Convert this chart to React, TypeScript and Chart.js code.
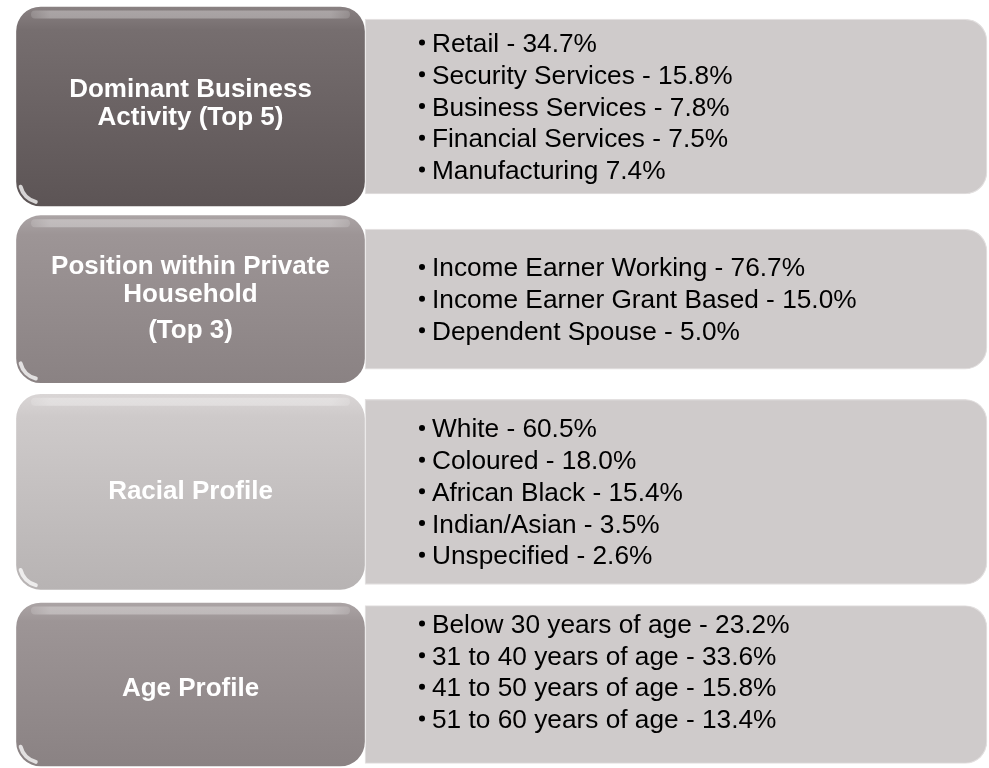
import React, { useEffect, useRef } from "react";
import { Chart, registerables } from "chart.js";

Chart.register(...registerables);

// ---- content ----
const TITLES: string[][][] = [
  [["Dominant Business", "Activity (Top 5)"]],
  [["Position within Private", "Household"], ["(Top 3)"]],
  [["Racial Profile"]],
  [["Age Profile"]],
];
const BUSINESS = [
  "Retail - 34.7%",
  "Security Services - 15.8%",
  "Business Services - 7.8%",
  "Financial Services - 7.5%",
  "Manufacturing 7.4%",
];
const HOUSEHOLD = [
  "Income Earner Working - 76.7%",
  "Income Earner Grant Based - 15.0%",
  "Dependent Spouse - 5.0%",
];
const RACE = [
  "White - 60.5%",
  "Coloured - 18.0%",
  "African Black - 15.4%",
  "Indian/Asian - 3.5%",
  "Unspecified - 2.6%",
];
const AGE = [
  "Below 30 years of age - 23.2%",
  "31 to 40 years of age - 33.6%",
  "41 to 50 years of age - 15.8%",
  "51 to 60 years of age - 13.4%",
];
const ITEMS = [BUSINESS, HOUSEHOLD, RACE, AGE];

// ---- layout / style ----
const W = 989;
const H = 768;
const LEFT_SPAN = [15, 366];
const RIGHT_SPAN = [365, 987];
const LEFT_H = [202, 170, 198, 166];
const RIGHT_H = [175, 140, 185, 158];
const Y_MIN = -0.5528;
const Y_MAX = 3.4334;
const LEFT_FILLS = [
  ["#8a8283", "#766e6f", "#5c5455"],
  ["#aca5a6", "#9d9596", "#8a8283"],
  ["#dad6d6", "#cecaca", "#b7b3b3"],
  ["#aca5a6", "#9d9596", "#8a8283"],
];
const RIGHT_FILL = "#cfcbcb";
const TITLE_FONT = 'bold 26px Arial, "Liberation Sans", Helvetica, sans-serif';
const ITEM_FONT = '25px Arial, "Liberation Sans", Helvetica, sans-serif';
const TITLE_LH = 28;
const TITLE_PARA_GAP = 8;
const TITLE_DY = [-5, -2, -2, 2];
const ITEM_LH = 31.7;
const ITEM_DY = [0, 0, 0, -13];
const ITEM_X = 67;
const BULLET_X = 57;
const ITEM_SCALE = 1.05;

function vGrad(chart: any, row: number, h: number, stops: string[]) {
  const area = chart.chartArea;
  const ys = chart.scales && chart.scales.y;
  if (!area || !ys) return stops[1];
  const yc = ys.getPixelForValue(row);
  const g = chart.ctx.createLinearGradient(0, yc - h / 2, 0, yc + h / 2);
  g.addColorStop(0, stops[0]);
  g.addColorStop(0.12, stops[1]);
  g.addColorStop(1, stops[2]);
  return g;
}

function rrect(ctx: CanvasRenderingContext2D, x: number, y: number, w: number, h: number, r: number) {
  ctx.beginPath();
  ctx.moveTo(x + r, y);
  ctx.lineTo(x + w - r, y);
  ctx.arcTo(x + w, y, x + w, y + r, r);
  ctx.lineTo(x + w, y + h - r);
  ctx.arcTo(x + w, y + h, x + w - r, y + h, r);
  ctx.lineTo(x + r, y + h);
  ctx.arcTo(x, y + h, x, y + h - r, r);
  ctx.lineTo(x, y + r);
  ctx.arcTo(x, y, x + r, y, r);
  ctx.closePath();
}

function boxOf(chart: any, i: number) {
  const el = chart.getDatasetMeta(i).data[0];
  const p = el.getProps(["x", "y", "base", "height"], true);
  const l = Math.min(p.x, p.base);
  const r = Math.max(p.x, p.base);
  return { l, r, t: p.y - p.height / 2, b: p.y + p.height / 2, cy: p.y };
}

const decor = {
  id: "decor",
  afterDatasetsDraw(chart: any) {
    const ctx: CanvasRenderingContext2D = chart.ctx;
    const n = TITLES.length;
    for (let i = 0; i < n; i++) {
      const bx = boxOf(chart, i);
      // gloss band near top
      ctx.save();
      const g = ctx.createLinearGradient(bx.l, 0, bx.r, 0);
      g.addColorStop(0, "rgba(255,255,255,0)");
      g.addColorStop(0.1, "rgba(255,255,255,0.3)");
      g.addColorStop(0.9, "rgba(255,255,255,0.3)");
      g.addColorStop(1, "rgba(255,255,255,0)");
      ctx.fillStyle = g;
      rrect(ctx, bx.l + 16, bx.t + 5, bx.r - bx.l - 32, 8, 4);
      ctx.fill();
      // crescent bottom-left
      ctx.beginPath();
      ctx.arc(bx.l + 26, bx.b - 26, 21, Math.PI * 0.58, Math.PI * 0.92);
      ctx.strokeStyle = "rgba(255,255,255,0.75)";
      ctx.lineWidth = 4;
      ctx.lineCap = "round";
      ctx.stroke();
      ctx.restore();

      // title text
      ctx.save();
      ctx.font = TITLE_FONT;
      ctx.fillStyle = "#ffffff";
      ctx.textAlign = "center";
      ctx.textBaseline = "alphabetic";
      const paras = TITLES[i];
      const lines: { text: string; off: number }[] = [];
      let off = 0;
      paras.forEach((para, pi) => {
        if (pi > 0) off += TITLE_PARA_GAP;
        para.forEach((line, li) => {
          if (pi > 0 || li > 0) off += TITLE_LH;
          lines.push({ text: line, off });
        });
      });
      const span = off;
      const cx = (bx.l + bx.r) / 2;
      const capHalf = 9.3;
      const first = bx.cy + TITLE_DY[i] - span / 2 + capHalf;
      lines.forEach((ln) => ctx.fillText(ln.text, cx, first + ln.off));
      ctx.restore();
    }

    // detail items
    for (let i = 0; i < ITEMS.length; i++) {
      const bx = boxOf(chart, n + i);
      const items = ITEMS[i];
      ctx.save();
      ctx.font = ITEM_FONT;
      ctx.fillStyle = "#000000";
      ctx.textAlign = "left";
      ctx.textBaseline = "alphabetic";
      const first = bx.cy + ITEM_DY[i] - ((items.length - 1) * ITEM_LH) / 2 + 9;
      items.forEach((txt, k) => {
        const bl = first + k * ITEM_LH;
        ctx.beginPath();
        ctx.arc(bx.l + BULLET_X, bl - 9.5, 3, 0, Math.PI * 2);
        ctx.fill();
        ctx.save();
        ctx.translate(bx.l + ITEM_X, bl);
        ctx.scale(ITEM_SCALE, 1);
        ctx.fillText(txt, 0, 0);
        ctx.restore();
      });
      ctx.restore();
    }
  },
};

export default function App() {
  const ref = useRef<HTMLCanvasElement | null>(null);

  useEffect(() => {
    if (!ref.current) return;
    const leftSets = TITLES.map((t, i) => ({
      label: t.flat().join(" "),
      data: [{ x: [LEFT_SPAN[0], LEFT_SPAN[1]], y: i }],
      barThickness: LEFT_H[i],
      grouped: false,
      backgroundColor: (c: any) => vGrad(c.chart, i, LEFT_H[i], LEFT_FILLS[i]),
      borderColor: "rgba(255,255,255,0.35)",
      borderWidth: 1.5,
      borderRadius: 26,
      borderSkipped: false,
    }));
    const rightSets = ITEMS.map((items, i) => ({
      label: TITLES[i].flat().join(" ") + " details",
      data: [{ x: [RIGHT_SPAN[0], RIGHT_SPAN[1]], y: i }],
      barThickness: RIGHT_H[i],
      grouped: false,
      backgroundColor: RIGHT_FILL,
      borderColor: "#e3e0e0",
      borderWidth: 1.2,
      borderRadius: { topLeft: 0, bottomLeft: 0, topRight: 22, bottomRight: 22 },
      borderSkipped: false,
    }));

    const chart = new Chart(ref.current, {
      type: "bar",
      data: { datasets: [...leftSets, ...rightSets] as any },
      options: {
        animation: false,
        responsive: true,
        maintainAspectRatio: false,
        indexAxis: "y",
        layout: { padding: 0 },
        events: [],
        scales: {
          x: { type: "linear", min: 0, max: W, display: false, offset: false },
          y: {
            type: "linear",
            min: Y_MIN,
            max: Y_MAX,
            reverse: true,
            display: false,
            offset: false,
            grid: { offset: false },
          },
        },
        plugins: {
          legend: { display: false },
          tooltip: { enabled: false },
        },
      } as any,
      plugins: [decor],
    });
    return () => chart.destroy();
  }, []);

  return (
    <div
      style={{
        position: "fixed",
        left: 0,
        top: 0,
        width: W,
        height: H,
        background: "#ffffff",
      }}
    >
      <canvas ref={ref} />
    </div>
  );
}
